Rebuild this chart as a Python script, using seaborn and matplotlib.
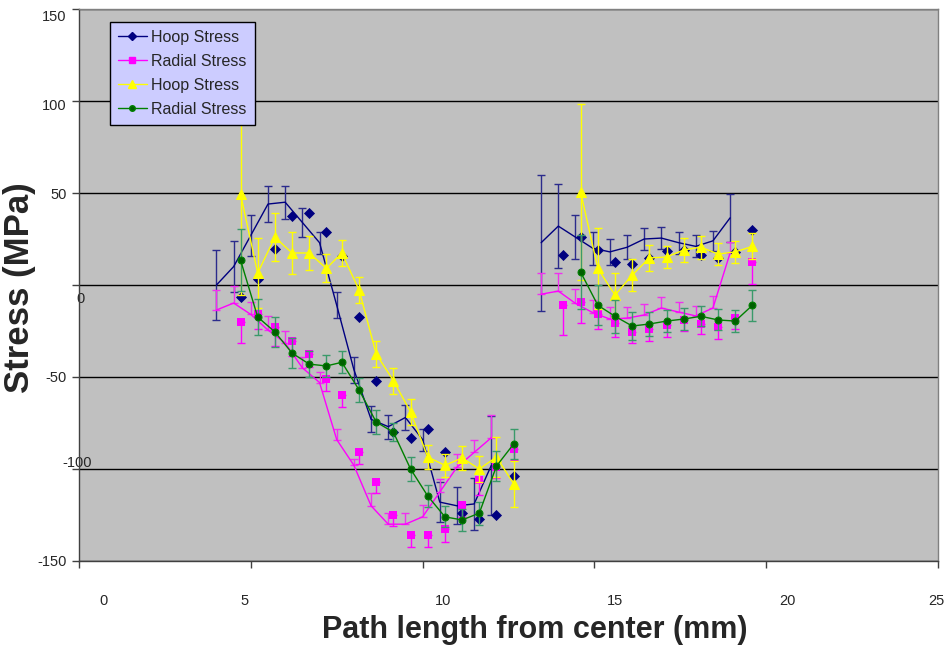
import matplotlib
matplotlib.use('Agg')
import matplotlib.pyplot as plt
import seaborn as sns
from matplotlib.lines import Line2D
from matplotlib.transforms import ScaledTranslation

sns.set_style('ticks')
plt.rcParams['font.family'] = ['Liberation Sans', 'DejaVu Sans']
plt.rcParams['axes.unicode_minus'] = False

# --- data (MPa vs mm) ---
# x positions of the line series (navy / magenta lines)
line_x_left = [4.0, 4.5, 5.0, 5.5, 6.0, 6.5, 7.0, 7.5, 8.0, 8.5, 9.0, 9.5, 10.0, 10.5, 11.0, 11.5, 12.0]
line_x_right = [13.45, 13.95, 14.45, 14.95, 15.45, 15.95, 16.45, 16.95, 17.45, 17.95, 18.45, 18.95]
# x positions of the point series
pt_x_left = [4.7, 5.2, 5.7, 6.2, 6.7, 7.2, 7.65, 8.15, 8.65, 9.15, 9.65, 10.15, 10.65, 11.15, 11.65, 12.15, 12.65]
pt_x_right = [14.1, 14.6, 15.1, 15.6, 16.1, 16.6, 17.1, 17.6, 18.1, 18.6, 19.1, 19.6]

# Hoop stress (navy line with error bars)
hoop_line_left = [0, 10, 27, 44, 45, 34, 23, -11, -46, -73, -77, -72, -84, -118, -120, -119, -98]
hoop_line_left_err = [19, 14, 11, 10, 9, 8, 6, 7, 7, 7, 6.5, 7, 6, 11, 10, 14, 27]
hoop_line_right = [23, 32, 26, 20, 18, 20.5, 25, 25.5, 23, 21, 24, 36.5]
hoop_line_right_err = [37, 23, 12, 9, 7, 6.5, 6, 6, 6, 6, 5.5, 13]

# Hoop stress (navy diamonds)
hoop_pts_left = [-6.5, 3.3, 19.6, 37.5, 39, 29, 16, -17.5, -52, -80, -83, -78, -91, -124, -127, -125, -104]
hoop_pts_right = [16.3, 26, 19, 12.5, 11.4, 14.5, 18.5, 19, 16.3, 14.7, 18, 30]

# Radial stress (magenta line, upper error bars)
radial_line_left = [-13.6, -9.8, -16, -24.5, -31.5, -45, -53, -84, -98, -120, -130, -130, -126, -112.5, -99, -91, -83]
radial_line_left_up = [11, 9, 7, 7.5, 6.5, 6, 5.5, 5.5, 3.5, 7, 6, 6, 6.5, 7, 7, 7, 12.5]
radial_line_right = [-5, -3.3, -10, -15, -18.5, -18, -16.3, -12.5, -14.7, -16.8, -12.5, 17.4]
radial_line_right_up = [11.5, 10, 8, 7, 6.5, 6, 6, 6, 5.5, 5.5, 6.5, 6]

# Radial stress (magenta squares, lower error bars)
radial_pts_left = [-20, -16, -23, -30.4, -37.5, -51, -60, -91, -107, -125, -136, -136, -132.6, -119.6, -106, -99, -89]
radial_pts_left_dn = [11.5, 8, 10, 8, 7, 6.5, 6.5, 6.5, 6, 6, 6.5, 6.5, 7, 6.5, 8, 6, 6]
radial_pts_right = [-11, -9, -15.8, -20.6, -25.5, -24, -22, -19, -21, -22.6, -18, 12.5]
radial_pts_right_dn = [16, 11.5, 8, 7.6, 6, 6.5, 6, 6, 5.5, 7, 6, 12]

# Hoop stress 2 (yellow triangles)
hoop2_left = [49.5, 6.5, 26, 17.4, 17.4, 9, 17.4, -2.7, -37.5, -52, -69, -93.5, -98, -94, -100, -93.5, -108]
hoop2_left_err = [55, 19, 13, 11.5, 9, 7.6, 7, 7.3, 7, 7, 7, 6.6, 6.3, 6.3, 7, 11, 12.5]
hoop2_right = [50.5, 9, -5.5, 5.4, 14.7, 15.2, 19, 20.6, 16.8, 18, 21]
hoop2_right_err = [48, 22, 12, 8.5, 7, 6, 6.3, 6.3, 6, 6, 7]

# Radial stress 2 (green circles)
radial2_left = [13.6, -17.4, -25.5, -37, -43, -44, -42, -57, -74.5, -80, -100, -114.7, -126, -127.7, -124, -98.4, -86.4]
radial2_left_err = [17, 10, 8, 8, 7, 6, 6, 6.5, 6.3, 5, 6.3, 6, 5.7, 6, 6.3, 8, 8]
radial2_right = [7, -11, -17, -22.3, -21.2, -19.6, -18.5, -17, -19, -19.6, -11]
radial2_right_err = [20, 11, 9, 7.6, 6.3, 6, 6, 5.5, 5.7, 6, 8.5]

legend_labels = ['Hoop Stress', 'Radial Stress', 'Hoop Stress', 'Radial Stress']

NAVY = '#000080'
MAGENTA = '#ff00ff'
YELLOW = '#ffff00'
GREEN = '#008000'

fig, ax = plt.subplots(figsize=(9.51, 6.53), dpi=100)
fig.subplots_adjust(left=0.0831, right=0.9863, bottom=0.1409, top=0.9862)
ax.set_facecolor('#c0c0c0')

bar_kw = dict(fmt='none', elinewidth=1.0, capsize=3, capthick=1.0)

# navy lines with symmetric bars
for xs, ys, err in [(line_x_left, hoop_line_left, hoop_line_left_err),
                    (line_x_right, hoop_line_right, hoop_line_right_err)]:
    ax.errorbar(xs, ys, yerr=err, ecolor='#2b2b8c', zorder=2, **bar_kw)
    sns.lineplot(x=xs, y=ys, color=NAVY, lw=1, sort=False, estimator=None, ax=ax, zorder=2)

# magenta lines with upper bars
for xs, ys, up in [(line_x_left, radial_line_left, radial_line_left_up),
                   (line_x_right, radial_line_right, radial_line_right_up)]:
    ax.errorbar(xs, ys, yerr=[[0] * len(up), up], ecolor='#f030f0', zorder=2.1, **bar_kw)
    sns.lineplot(x=xs, y=ys, color=MAGENTA, lw=1, sort=False, estimator=None, ax=ax, zorder=2.1)

# navy diamonds
for xs, ys in [(pt_x_left, hoop_pts_left), (pt_x_right, hoop_pts_right)]:
    sns.scatterplot(x=xs, y=ys, marker='D', s=32, color=NAVY, edgecolor=NAVY,
                    linewidth=0, ax=ax, zorder=3)

# magenta squares with lower bars
for xs, ys, dn in [(pt_x_left, radial_pts_left, radial_pts_left_dn),
                   (pt_x_right, radial_pts_right, radial_pts_right_dn)]:
    ax.errorbar(xs, ys, yerr=[dn, [0] * len(dn)], ecolor=MAGENTA, zorder=3.1, **bar_kw)
    sns.scatterplot(x=xs, y=ys, marker='s', s=32, color=MAGENTA, edgecolor=MAGENTA,
                    linewidth=0, ax=ax, zorder=3.1)

# yellow triangles
for xs, ys, err in [(pt_x_left, hoop2_left, hoop2_left_err),
                    (pt_x_right[1:], hoop2_right, hoop2_right_err)]:
    ax.errorbar(xs, ys, yerr=err, ecolor=YELLOW, zorder=4, **bar_kw)
    sns.lineplot(x=xs, y=ys, color=YELLOW, lw=1, sort=False, estimator=None, ax=ax,
                 marker='^', markersize=7, markeredgecolor=YELLOW, zorder=4)

# green circles
for xs, ys, err in [(pt_x_left, radial2_left, radial2_left_err),
                    (pt_x_right[1:], radial2_right, radial2_right_err)]:
    ax.errorbar(xs, ys, yerr=err, ecolor='#3a9a6a', zorder=5, **bar_kw)
    sns.lineplot(x=xs, y=ys, color=GREEN, lw=1, sort=False, estimator=None, ax=ax,
                 marker='o', markersize=5, markerfacecolor='#006000',
                 markeredgecolor=GREEN, zorder=5)

ax.set_xlim(0, 25)
ax.set_ylim(-150, 150)
ax.set_xticks(range(0, 26, 5))
ax.set_yticks(range(-150, 151, 50))
ax.yaxis.grid(True, color='black', lw=1)
ax.set_axisbelow(True)

for side in ['left', 'bottom']:
    ax.spines[side].set_color('#404040')
for side in ['top', 'right']:
    ax.spines[side].set_color('#808080')
for sp in ax.spines.values():
    sp.set_linewidth(1)

ax.tick_params(axis='x', length=5, width=1, color='#404040', labelsize=10.5, pad=19)
ax.tick_params(axis='y', length=5, width=1, color='#404040', labelsize=10.5, pad=4)

# the reference has its tick labels nudged off the ticks; mimic that (pixels)
x_label_dx = [24, -6, 20, 21, 21, -2]
for lab, dx in zip(ax.get_xticklabels(), x_label_dx):
    lab.set_transform(lab.get_transform() + ScaledTranslation(dx / 100, 0, fig.dpi_scale_trans))
y_label_shift = [(0, 0), (25, 7), (0, 0), (18, -12), (0, 0), (0, -3), (0, -6)]
for lab, (dx, dy) in zip(ax.get_yticklabels(), y_label_shift):
    lab.set_transform(lab.get_transform() + ScaledTranslation(dx / 100, dy / 100, fig.dpi_scale_trans))

ax.set_xlabel('Path length from center (mm)', fontsize=22, fontweight='bold')
ax.set_ylabel('Stress (MPa)', fontsize=25, fontweight='bold')
ax.xaxis.set_label_coords(0.53, -0.098)
ax.yaxis.set_label_coords(-0.05, 0.495)

handles = [
    Line2D([], [], color=NAVY, lw=1, marker='D', ms=4),
    Line2D([], [], color=MAGENTA, lw=1, marker='s', ms=4.5),
    Line2D([], [], color=YELLOW, lw=1, marker='^', ms=5.5),
    Line2D([], [], color=GREEN, lw=1, marker='o', ms=4, mfc='#006000'),
]
leg = ax.legend(handles, legend_labels, loc='upper left', bbox_to_anchor=(0.036, 0.977),
                borderaxespad=0, fontsize=11.5, frameon=True, fancybox=False,
                framealpha=1, facecolor='#ccccff', edgecolor='black',
                labelspacing=0.56, handlelength=1.8, handletextpad=0.3, borderpad=0.5)
leg.get_frame().set_linewidth(1)
leg.set_zorder(10)

fig.savefig('out.png', dpi=100)
